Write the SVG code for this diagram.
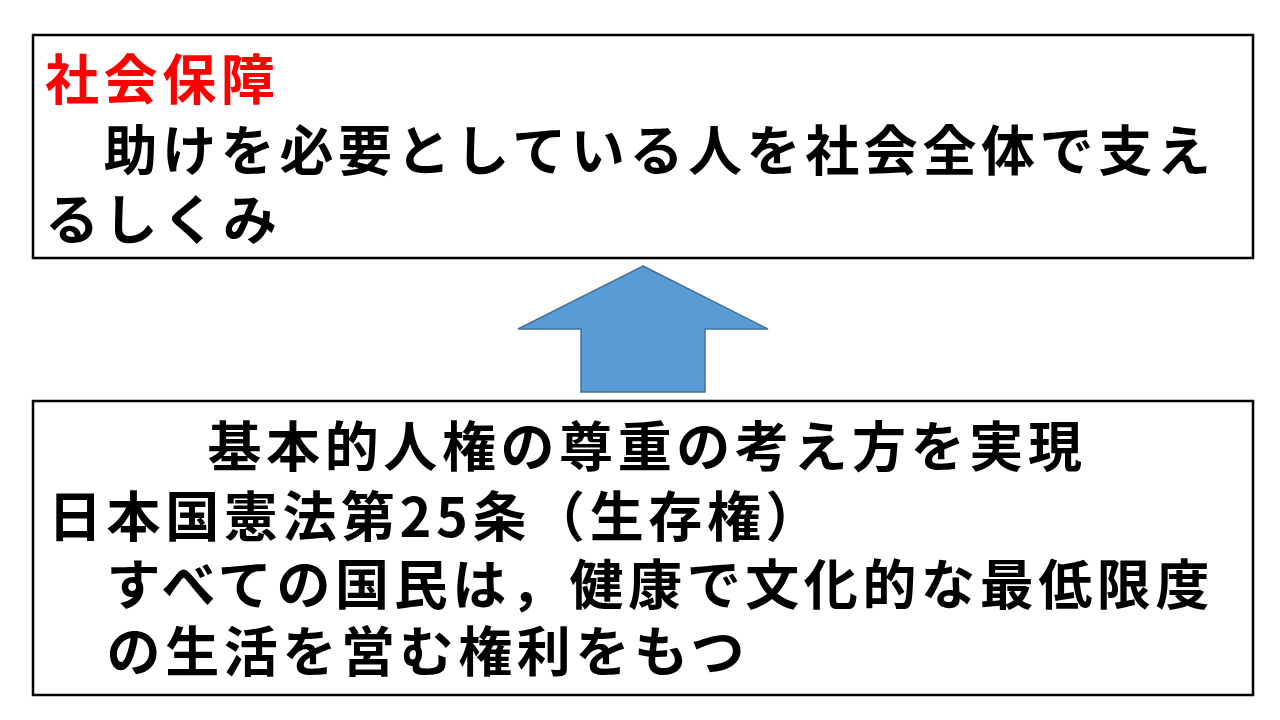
<svg xmlns="http://www.w3.org/2000/svg" width="1280" height="720" viewBox="0 0 1280 720">
<style>
.box{fill:#fff;stroke:#000;stroke-width:2.5}
.t{font-family:"Noto Sans CJK JP","Noto Sans CJK SC",sans-serif;font-size:54px;font-weight:bold;fill:#000;letter-spacing:4.6px}
</style>
<rect width="1280" height="720" fill="#fff"/>
<g id="social-security">
<rect class="box" x="33" y="35" width="1220" height="223"/>
<text class="t" x="45" y="100" style="fill:#ff0000">社会保障</text>
<text class="t" x="45" y="171">　助けを必要としている人を社会全体で支え</text>
<text class="t" x="45" y="240">るしくみ</text>
</g>
<g id="connectors">
<polygon points="643,266 768,329 705,329 705,392 581,392 581,329 518,329" fill="#5b9bd5" stroke="#41719c" stroke-width="1.5"/>
</g>
<g id="human-rights">
<rect class="box" x="33" y="401" width="1220" height="294"/>
<text class="t" x="647" y="467" text-anchor="middle">基本的人権の尊重の考え方を実現</text>
<text class="t" x="48" y="537">日本国憲法第25条（生存権）</text>
<text class="t" x="48" y="605">　すべての国民は，健康で文化的な最低限度</text>
<text class="t" x="48" y="672">　の生活を営む権利をもつ</text>
</g>
</svg>
